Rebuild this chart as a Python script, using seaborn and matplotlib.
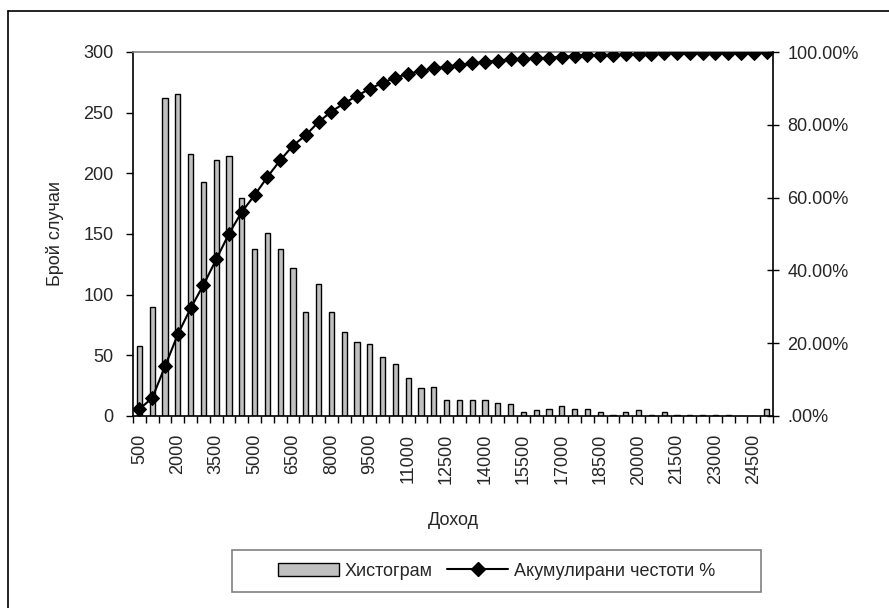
import numpy as np
import pandas as pd
import matplotlib
matplotlib.use("Agg")
import matplotlib.pyplot as plt
import seaborn as sns
from matplotlib.lines import Line2D
from matplotlib.patches import Patch, Rectangle

# ---- data ----
categories = [str(v) for v in range(500, 25001, 500)]
counts = [58, 90, 262, 265, 216, 193, 211, 214, 180, 138,
          151, 138, 122, 86, 109, 86, 69, 61, 59, 49,
          43, 31, 23, 24, 13, 13, 13, 13, 11, 10,
          3, 5, 6, 8, 6, 6, 3, 1, 3, 5,
          1, 3, 1, 1, 1, 1, 1, 0, 0, 6]
cum_pct = list(np.cumsum(counts) / np.sum(counts))
label_every = 3
x_title = "Доход"
y_title = "Брой случаи"
bar_label = "Хистограм"
line_label = "Акумулирани честоти %"
pct_ticks = [0.0, 0.2, 0.4, 0.6, 0.8, 1.0]
pct_labels = [".00%", "20.00%", "40.00%", "60.00%", "80.00%", "100.00%"]
count_ticks = [0, 50, 100, 150, 200, 250, 300]

sns.set_theme(style="white")
plt.rcParams["font.family"] = ["Liberation Sans", "DejaVu Sans"]
FS = 13
plt.rcParams["font.size"] = FS

W, H = 889, 608
fig = plt.figure(figsize=(W / 100, H / 100), dpi=100)
L, R, T, B = 133, 773, 52, 416
ax = fig.add_axes([L / W, 1 - B / H, (R - L) / W, (B - T) / H])

df = pd.DataFrame({"cat": categories, "n": counts})
sns.barplot(data=df, x="cat", y="n", order=categories, ax=ax,
            color="#c0c0c0", edgecolor="black", linewidth=1.0,
            width=0.42, saturation=1)

n = len(categories)
ax.set_xlim(-0.5, n - 0.5)
ax.set_ylim(0, 300)
ax.set_yticks(count_ticks)
ax.set_yticklabels([str(v) for v in count_ticks], fontsize=FS)
major_pos = list(range(0, n, label_every))
ax.set_xticks(major_pos)
ax.set_xticklabels([categories[i] for i in major_pos], rotation=90, fontsize=FS)
ax.set_xticks([i - 0.5 for i in range(n + 1)], minor=True)
ax.tick_params(axis="x", which="major", length=0, pad=13)
ax.tick_params(axis="x", which="minor", length=5, width=1, color="black", direction="out", bottom=True)
ax.tick_params(axis="y", which="major", length=5, width=1, color="black", direction="out", left=True, pad=9)
ax.set_xlabel(x_title, fontsize=FS, labelpad=20)
ax.set_ylabel(y_title, fontsize=FS, labelpad=14)

for side in ["left", "bottom"]:
    ax.spines[side].set_color("black")
    ax.spines[side].set_linewidth(1.2)
ax.spines["top"].set_color("#808080")
ax.spines["top"].set_linewidth(1.2)
ax.spines["right"].set_visible(False)

ax2 = ax.twinx()
sns.lineplot(x=np.arange(n), y=cum_pct, ax=ax2, color="black", linewidth=1.5,
             marker="D", markersize=7.5, markeredgecolor="black",
             markerfacecolor="black", legend=False)
ax2.set_ylim(0, 1)
ax2.set_xlim(-0.5, n - 0.5)
ax2.set_yticks(pct_ticks)
ax2.set_yticklabels(pct_labels, fontsize=FS)
ax2.tick_params(axis="y", which="major", length=8.6, width=1, color="black",
                direction="inout", right=True, pad=6)
ax2.set_ylabel("")
for side in ["left", "bottom", "top"]:
    ax2.spines[side].set_visible(False)
ax2.spines["right"].set_color("black")
ax2.spines["right"].set_linewidth(1.2)
ax2.grid(False)
ax.grid(False)

# legend box
lx0, lx1, ly0, ly1 = 232, 761, 550, 592
fig.add_artist(Rectangle((lx0 / W, 1 - ly1 / H), (lx1 - lx0) / W, (ly1 - ly0) / H,
                         transform=fig.transFigure, facecolor="white",
                         edgecolor="#808080", linewidth=1.2))
handles = [Patch(facecolor="#c0c0c0", edgecolor="black", linewidth=1.0),
           Line2D([0], [0], color="black", linewidth=1.5, marker="D",
                  markersize=7, markerfacecolor="black")]
leg = fig.legend(handles, [bar_label, line_label], ncol=2,
                 loc="center",
                 bbox_to_anchor=((lx0 + lx1) / 2 / W, 1 - (ly0 + ly1) / 2 / H),
                 frameon=False, fontsize=FS, handlelength=3.4,
                 handletextpad=0.3, columnspacing=0.8, borderaxespad=0)

# outer chart frame (top and left edges visible)
fig.add_artist(Line2D([8 / W, 8 / W], [1 - 11 / H, 0], transform=fig.transFigure,
                      color="black", linewidth=1.2))
fig.add_artist(Line2D([8 / W, 1], [1 - 11 / H, 1 - 11 / H], transform=fig.transFigure,
                      color="black", linewidth=1.2))

fig.savefig("out.png", dpi=100)
